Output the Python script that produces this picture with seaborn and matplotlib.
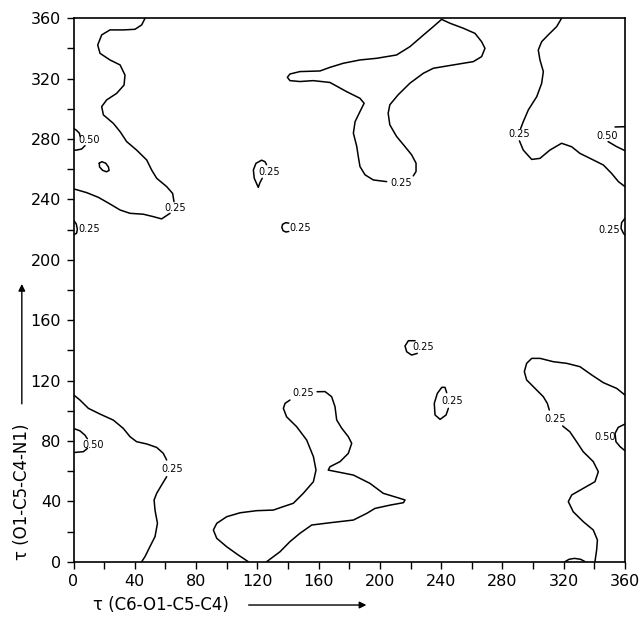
import matplotlib
matplotlib.use("Agg")
import matplotlib.pyplot as plt
import seaborn as sns

# ---- contour traces (degrees) ----
# top-left 0.25 contour (two pieces around its label)
c1a_x = [46.7, 44.5, 40.1, 32.5, 23.8, 18.4, 15.8, 17.3, 23.8, 30.4, 33.6, 33.0, 28.2, 21.6, 18.4, 19.5, 26.0, 30.4, 34.7, 41.2, 47.8, 51.0, 54.3, 60.8, 64.7, 65.6]
c1a_y = [360, 355.6, 352.7, 352.3, 352.3, 349, 342.3, 336.8, 332.4, 329.1, 322.4, 315.8, 310.3, 305.9, 301.5, 296, 290.4, 284.9, 278.3, 272.7, 266.1, 259.5, 254, 248.5, 244, 238.5]
c1b_x = [63, 57.5, 52.1, 45.6, 36.9, 30.4, 23.8, 16.2, 8.6, 2.5, 0]
c1b_y = [230.8, 227.1, 228.6, 230.2, 230.8, 233, 237, 241.4, 244.5, 246.3, 247]
# small closed loop near (20, 262)
c2_x = [16.8, 18.5, 21.0, 22.8, 23.2, 21.5, 19.0, 17.0, 16.8]
c2_y = [264.0, 265.0, 264.0, 261.5, 259.2, 258.3, 259.3, 261.5, 264.0]
# 0.50 loop on left edge near 280
c3a_x = [0, 1.6, 3.8, 4.4]
c3a_y = [287, 286.1, 283.9, 281.5]
c3b_x = [7.5, 5.3, 2.1, 0]
c3b_y = [275.6, 273.4, 272.7, 272.6]
# 0.25 loop on left edge near 220
c4_x = [0, 1.8, 2.5, 2.0, 0]
c4_y = [226.4, 223.7, 220.2, 217.6, 216.5]
# teardrop near (120, 257)
c5_x = [126, 125, 122.8, 119.1, 117.4, 118, 120.6, 121.7, 123.2]
c5_y = [263, 265, 266, 263.9, 259.5, 254, 248, 251.1, 254]
# small loop near (139, 221)
c6_x = [140.5, 138.5, 136.5, 136.0, 136.8, 138.7, 140.5]
c6_y = [224.3, 224.6, 223.5, 221.5, 219.3, 218.4, 218.8]
# top-centre Y-shaped contour
c7_x = [221.8, 223.6, 223.6, 220.7, 216.3, 210.9, 206.5, 205.4, 206.5, 211.9, 219.6, 228.4, 234.9, 247.9, 261, 266.4, 268.6, 266.4, 262.1, 254.5, 245.8, 240.3, 234.9, 228.4, 219.6, 210.9, 197.9, 187, 176.1, 167.4, 160.9, 147.8, 141.3, 139.6, 141.3, 147.8, 156.5, 167.4, 178.3, 187, 189.7, 187, 183.8, 182.7, 184.9, 185.9, 187, 190.3, 195.7, 204.4]
c7_y = [255.6, 258.5, 264, 269.6, 275.1, 281.7, 289.4, 297.1, 302.7, 309.3, 317, 323.6, 326.9, 329.1, 331.3, 334.6, 340.1, 344.5, 350, 353.4, 356.7, 359.3, 354.5, 348.9, 341.2, 335.7, 333.5, 332.4, 330.2, 327.5, 325.1, 324.7, 323.1, 320.9, 318.7, 318.1, 318.7, 317.5, 311.4, 307, 303.7, 298.2, 291.5, 283.9, 275.1, 268.4, 261.8, 256.3, 252.9, 251.8]
# top-right 0.25 contour
c8a_x = [318.6, 315.4, 309.9, 305.6, 303.4, 304.5, 306.7, 305.6, 302.4, 296.9, 293.6, 291.9]
c8a_y = [360, 354.5, 349, 344.5, 339, 332.4, 324.7, 316.9, 308.1, 299.3, 291.5, 287.0]
c8b_x = [291.1, 293.6, 299.1, 304.5, 311.0, 318.6, 325.2, 330.6, 339.4, 345.9, 351.3, 355.7, 360]
c8b_y = [278.8, 272.7, 266.5, 267.2, 272.7, 277.2, 274.9, 270.5, 266.1, 262.8, 257.2, 251.8, 248.5]
# 0.50 loop on right edge near 280
c9a_x = [360, 353.5]
c9a_y = [288.2, 288.0]
c9b_x = [349, 354.5, 360]
c9b_y = [278.3, 275, 272.3]
# 0.25 loop on right edge near 220
c10_x = [360, 357.8, 357.4, 359, 360]
c10_y = [227.5, 224.6, 220.9, 217.5, 216.4]
# bottom-left 0.25 contour
c11a_x = [0, 4.2, 9.7, 17.3, 26, 32.5, 36.9, 41.2, 47.8, 54.3, 58.6, 60.8]
c11a_y = [110.6, 107.1, 101.6, 97.8, 93.8, 88.3, 82.8, 79.5, 78, 75.7, 71.8, 67.4]
c11b_x = [60.8, 57.5, 54.3, 52.6, 53.2, 54.8, 53.2, 49.9, 46.7, 44.5]
c11b_y = [56.3, 50.8, 45.3, 40.9, 34.2, 25.4, 16.6, 10, 3.4, 0]
# 0.50 loop on left edge near 80
c12a_x = [0, 4.2, 7.5, 9.0]
c12a_y = [88.3, 86.7, 83.8, 81.5]
c12b_x = [9.1, 6.5, 1.0, 0]
c12b_y = [75.1, 72.9, 72.4, 72.4]
# bottom-centre 0.25 contour
c13a_x = [114.1, 107.6, 100, 93.5, 91.3, 93.5, 100, 108.7, 119.5, 130.4, 137, 143.5, 150, 156.6, 158.3, 156.6, 152.2, 145.7, 139.1, 137, 138.1, 141.3]
c13a_y = [0, 4.4, 9.9, 15.5, 21, 25.4, 29.8, 32.4, 33.8, 34.2, 36.5, 38.7, 45.3, 53, 60.7, 69.6, 80.6, 89.4, 96, 101.6, 104.9, 107.1]
c13b_x = [159, 164.2, 168.5, 170.7, 171.8, 175.1, 179.4, 181.6, 179.4, 174, 167.4, 166.3, 171.8, 182.7, 193.5, 202.2, 211.0, 216.4, 215.4, 206.7, 196.8, 191.4, 182.7, 167.4, 155.5, 147.8, 141.3, 134.8, 126.1]
c13b_y = [112.6, 112.7, 109.3, 102.7, 93.9, 88.4, 82.8, 78.4, 71.8, 66.3, 62.9, 60.7, 59.6, 57.4, 51.9, 45.3, 42.6, 40.9, 39.1, 37.5, 35.3, 32, 27.6, 25.8, 24.3, 18.8, 13.3, 6.6, 0]
# tiny bump on bottom edge near 327
c14_x = [320.8, 323.5, 327, 331, 334]
c14_y = [0, 1.6, 2.2, 1.6, 0]
# bottom-right 0.25 contour
c15a_x = [360, 354.6, 345.9, 338.3, 330.6, 322, 313.2, 304.6, 299.1, 295.8, 294.3, 295.8, 301.3, 306.7, 309.3, 310.6]
c15a_y = [110.4, 114.8, 118.6, 123.7, 129.2, 131.4, 132.5, 134.7, 134.7, 131.4, 125.9, 120.4, 114.8, 109.3, 104.9, 100.5]
c15b_x = [319.3, 324, 328.4, 332.7, 339.3, 342.6, 340.4, 332.8, 325.2, 323, 326.2, 332.8, 339.3, 342, 341.5, 340.4]
c15b_y = [89.9, 86.1, 79.5, 72.9, 66.3, 59.6, 53, 48.6, 44.2, 39.8, 33.1, 26.5, 21, 14.4, 7.8, 0]
# 0.50 loop on right edge near 82
c16_x = [360, 355.6, 353.5, 354.1, 356.8, 360]
c16_y = [91.2, 89, 85, 79.5, 76.2, 73.5]
# small loop near (221, 142)
c17_x = [223, 218.6, 216.4, 217.5, 220.7, 224.4]
c17_y = [146.4, 146.4, 142.9, 139.1, 136.9, 138]
# teardrop near (240, 105)
c18_x = [243.6, 242.5, 240.4, 237.5, 235.5, 236.0, 239.3, 243.2, 244.7]
c18_y = [112, 115.5, 115.5, 111.5, 104.9, 97.2, 94.3, 97.2, 101.6]

# contour level labels
label_x = [66.2, 10.0, 10.5, 128.0, 147.8, 213.6, 290.9, 348.3, 349.5, 64.1, 13.0, 150.0, 314.3, 347.0, 228.4, 247.4]
label_y = [234.1, 279.5, 220.2, 258.0, 221.3, 251.1, 283.3, 282.0, 219.8, 61.4, 77.3, 111.5, 94.5, 82.4, 142.5, 106.7]
label_text = ["0.25", "0.50", "0.25", "0.25", "0.25", "0.25", "0.25", "0.50", "0.25", "0.25", "0.50", "0.25", "0.25", "0.50", "0.25", "0.25"]

tick_values = list(range(0, 361, 20))
tick_labels = [str(v) if v % 40 == 0 else "" for v in tick_values]

x_title = "τ (C6-O1-C5-C4)"
y_title = "τ (O1-C5-C4-N1)"

traces = [(c1a_x, c1a_y), (c1b_x, c1b_y), (c2_x, c2_y), (c3a_x, c3a_y), (c3b_x, c3b_y),
          (c4_x, c4_y), (c5_x, c5_y), (c6_x, c6_y), (c7_x, c7_y), (c8a_x, c8a_y),
          (c8b_x, c8b_y), (c9a_x, c9a_y), (c9b_x, c9b_y), (c10_x, c10_y),
          (c11a_x, c11a_y), (c11b_x, c11b_y), (c12a_x, c12a_y), (c12b_x, c12b_y),
          (c13a_x, c13a_y), (c13b_x, c13b_y), (c14_x, c14_y), (c15a_x, c15a_y),
          (c15b_x, c15b_y), (c16_x, c16_y), (c17_x, c17_y), (c18_x, c18_y)]

sns.set_theme(style="ticks")
plt.rcParams['font.family'] = ['DejaVu Sans']

fig = plt.figure(figsize=(6.42, 6.18), dpi=100)
ax = fig.add_axes([0.1145, 0.0911, 0.859, 0.8793])

for xs, ys in traces:
    sns.lineplot(x=xs, y=ys, sort=False, estimator=None, color="black",
                 linewidth=1.1, ax=ax)

for lx, ly, lt in zip(label_x, label_y, label_text):
    ax.text(lx, ly, lt, fontsize=7, ha="center", va="center", color="black")

ax.set_xlim(0, 360)
ax.set_ylim(0, 360)
ax.set_xticks(tick_values)
ax.set_yticks(tick_values)
ax.set_xticklabels(tick_labels)
ax.set_yticklabels(tick_labels)
ax.tick_params(axis="both", direction="out", length=5, width=1.0, labelsize=11.5,
               color="black", labelcolor="black", pad=4)
for sp in ax.spines.values():
    sp.set_visible(True)
    sp.set_color("black")
    sp.set_linewidth(1.2)
ax.set_xlabel("")
ax.set_ylabel("")

# axis titles with arrows
fig.text(0.250, 0.021, x_title, fontsize=12, ha="center", va="center", color="black")
ax.annotate("", xy=(0.575, 0.021), xytext=(0.383, 0.021), xycoords="figure fraction",
            textcoords="figure fraction",
            arrowprops=dict(arrowstyle="-|>", color="black", lw=1.0, mutation_scale=10))
fig.text(0.034, 0.205, y_title, fontsize=12, ha="center", va="center",
         rotation=90, color="black")
ax.annotate("", xy=(0.034, 0.545), xytext=(0.034, 0.342), xycoords="figure fraction",
            textcoords="figure fraction",
            arrowprops=dict(arrowstyle="-|>", color="black", lw=1.0, mutation_scale=10))

fig.savefig("out.png", dpi=100, facecolor="white")
